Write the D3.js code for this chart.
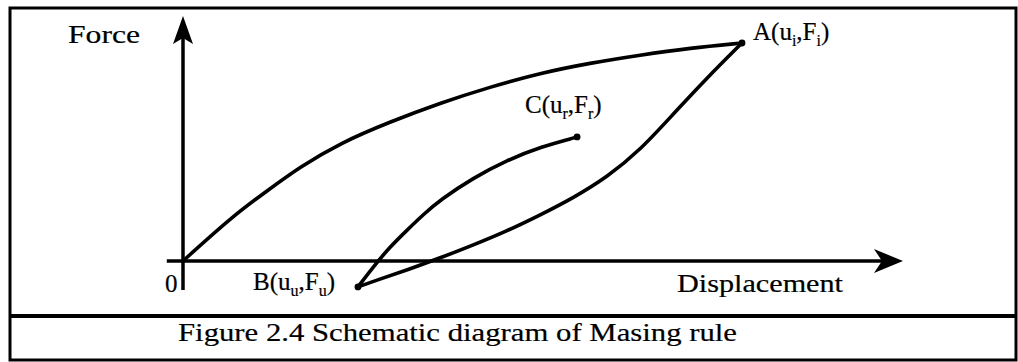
<!DOCTYPE html>
<html>
<head>
<meta charset="utf-8">
<script src="https://cdn.jsdelivr.net/npm/d3@7"></script>
<style>
  html, body { margin: 0; padding: 0; background: #fff; }
  svg { display: block; }
  text { font-family: "Liberation Serif", "Times New Roman", serif; fill: #000; stroke: #000; stroke-width: 0.2px; }
</style>
</head>
<body>
<svg id="chart" width="1018" height="362"></svg>
<script>
// Masing rule: backbone (virgin loading), unloading branch A-B, reloading branch B-C
const backboneU = [0, 0.089, 0.150, 0.209, 0.281, 0.370, 0.460, 0.549, 0.639, 0.728, 0.818, 0.907, 1.000];
const backboneF = [0, 0.206, 0.321, 0.431, 0.541, 0.638, 0.725, 0.798, 0.862, 0.908, 0.945, 0.977, 1.000];

// Unloading branch, listed from B up to A
const unloadU = [0.313, 0.352, 0.401, 0.460, 0.519, 0.580, 0.639, 0.698, 0.759, 0.818, 0.877, 0.937, 1.000];
const unloadF = [-0.119, -0.083, -0.041, 0.014, 0.073, 0.138, 0.211, 0.289, 0.385, 0.509, 0.674, 0.839, 1.000];

// Reloading branch, from B to C
const reloadU = [0.313, 0.340, 0.370, 0.401, 0.429, 0.460, 0.519, 0.580, 0.639, 0.705];
const reloadF = [-0.119, -0.028, 0.064, 0.142, 0.211, 0.280, 0.381, 0.463, 0.523, 0.569];

// Axis extents (data units)
const uAxisRange = [-0.029, 1.288];
const fAxisRange = [-0.133, 1.124];

// Labelled points A, B, C
const pointNames = ["A", "B", "C"];
const pointU = [1.000, 0.313, 0.705];
const pointF = [1.000, -0.119, 0.569];

const caption = "Figure 2.4 Schematic diagram of Masing rule";

const svg = d3.select("#chart");
const x = d3.scaleLinear().domain([0, 1]).range([183, 742]);
const y = d3.scaleLinear().domain([0, 1]).range([261, 43]);

// Outer frame and caption divider
svg.append("rect").attr("x", 10).attr("y", 8).attr("width", 1006).attr("height", 352)
  .attr("fill", "none").attr("stroke", "#000").attr("stroke-width", 3);
svg.append("line").attr("x1", 10).attr("x2", 1016).attr("y1", 316).attr("y2", 316)
  .attr("stroke", "#000").attr("stroke-width", 4);

// Axes
svg.append("line")
  .attr("x1", x(uAxisRange[0])).attr("x2", x(uAxisRange[1]) - 20)
  .attr("y1", y(0)).attr("y2", y(0))
  .attr("stroke", "#000").attr("stroke-width", 3.5);
svg.append("line")
  .attr("x1", x(0)).attr("x2", x(0))
  .attr("y1", y(fAxisRange[0])).attr("y2", y(fAxisRange[1]) + 20)
  .attr("stroke", "#000").attr("stroke-width", 3.5);

// Arrowheads (tip, back corners, notch)
const hx = x(uAxisRange[1]), hy = y(0);
svg.append("path")
  .attr("d", `M${hx},${hy} L${hx - 29},${hy - 12} L${hx - 21},${hy} L${hx - 29},${hy + 12} Z`)
  .attr("fill", "#000");
const vx = x(0), vy = y(fAxisRange[1]);
svg.append("path")
  .attr("d", `M${vx},${vy} L${vx + 10},${vy + 28} L${vx},${vy + 22} L${vx - 10},${vy + 28} Z`)
  .attr("fill", "#000");

// Curves (smoothing B-spline through the sampled branch points)
const line = d3.line()
  .x(d => x(d[0])).y(d => y(d[1]))
  .curve(d3.curveBasis);

const curves = [
  d3.zip(backboneU, backboneF),
  d3.zip(unloadU, unloadF),
  d3.zip(reloadU, reloadF)
];
svg.selectAll("path.curve").data(curves).join("path")
  .attr("class", "curve")
  .attr("d", line)
  .attr("fill", "none").attr("stroke", "#000")
  .attr("stroke-width", 3.6).attr("stroke-linejoin", "round").attr("stroke-linecap", "round");

// End-point dots
svg.selectAll("circle.pt").data(d3.zip(pointU, pointF)).join("circle")
  .attr("class", "pt")
  .attr("cx", d => x(d[0])).attr("cy", d => y(d[1])).attr("r", 3.4)
  .attr("fill", "#000");

// Axis titles
svg.append("text").attr("x", 68).attr("y", 43).attr("font-size", 25)
  .attr("textLength", 72).attr("lengthAdjust", "spacingAndGlyphs").text("Force");
svg.append("text").attr("x", 677).attr("y", 292).attr("font-size", 25)
  .attr("textLength", 166).attr("lengthAdjust", "spacingAndGlyphs").text("Displacement");
svg.append("text").attr("x", 165).attr("y", 292).attr("font-size", 25).text("0");

// Point labels with subscripts
function pointLabel(px, py, name, sub1, sub2) {
  const t = svg.append("text").attr("x", px).attr("y", py).attr("font-size", 25);
  t.append("tspan").text(name + "(u");
  t.append("tspan").attr("font-size", 16).attr("dy", 6).text(sub1);
  t.append("tspan").attr("dy", -6).text(",F");
  t.append("tspan").attr("font-size", 16).attr("dy", 6).text(sub2);
  t.append("tspan").attr("dy", -6).text(")");
  return t;
}
pointLabel(x(pointU[0]) + 11, y(pointF[0]) - 3, pointNames[0], "i", "i");
pointLabel(253, y(pointF[1]) + 3, pointNames[1], "u", "u");
pointLabel(525, y(pointF[2]) - 24, pointNames[2], "r", "r");

// Caption
svg.append("text").attr("x", 178).attr("y", 341).attr("font-size", 26)
  .attr("textLength", 559).attr("lengthAdjust", "spacingAndGlyphs").text(caption);
</script>
</body>
</html>
